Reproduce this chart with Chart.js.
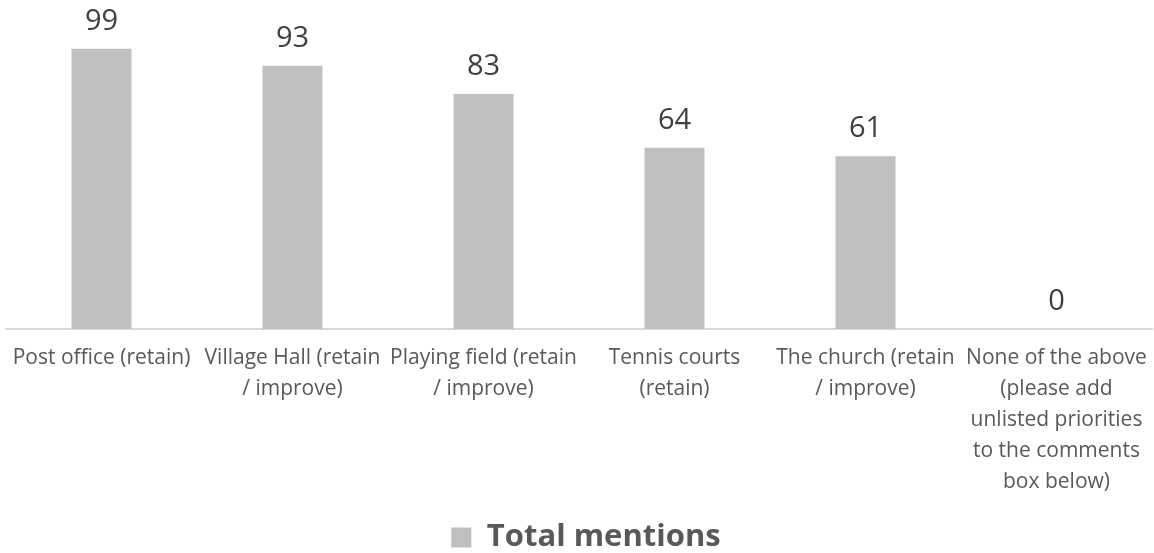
<!DOCTYPE html>
<html>
<head>
<meta charset="utf-8">
<script src="https://cdn.jsdelivr.net/npm/chart.js@4.4.1/dist/chart.umd.min.js"></script>
<style>
  html, body { margin: 0; padding: 0; background: #ffffff; }
  #wrap { width: 1154px; height: 553px; position: relative; }
</style>
</head>
<body>
<div id="wrap"><canvas id="c" width="1154" height="553"></canvas></div>
<script>
const categories = [
  "Post office (retain)",
  ["Village Hall (retain", "/ improve)"],
  ["Playing field (retain", "/ improve)"],
  ["Tennis courts", "(retain)"],
  ["The church (retain", "/ improve)"],
  ["None of the above", "(please add", "unlisted priorities", "to the comments", "box below)"]
];
const totalMentions = [99, 93, 83, 64, 61, 0];
const seriesName = "Total mentions";

const valueLabels = {
  id: 'valueLabels',
  afterDatasetsDraw(chart) {
    const ctx = chart.ctx;
    ctx.save();
    ctx.font = '29px "Open Sans"';
    ctx.fillStyle = '#404040';
    ctx.textAlign = 'center';
    ctx.textBaseline = 'alphabetic';
    chart.data.datasets.forEach((ds, i) => {
      const meta = chart.getDatasetMeta(i);
      meta.data.forEach((bar, j) => {
        ctx.fillText(String(ds.data[j]), bar.x, bar.y - 19);
      });
    });
    ctx.restore();
  }
};

const legendShift = {
  id: 'legendShift',
  afterLayout(chart) {
    if (chart.legend) {
      chart.legend.left += 7;
      chart.legend.right += 7;
    }
  }
};

new Chart(document.getElementById('c'), {
  type: 'bar',
  data: {
    labels: categories,
    datasets: [{
      label: seriesName,
      data: totalMentions,
      backgroundColor: '#bfbfbf',
      borderWidth: 0,
      barPercentage: 0.314,
      categoryPercentage: 1.0
    }]
  },
  options: {
    responsive: false,
    animation: false,
    devicePixelRatio: 1,
    layout: { padding: { top: 17.5, left: 6, right: 2, bottom: -10 } },
    plugins: {
      tooltip: { enabled: false },
      legend: {
        display: true,
        position: 'bottom',
        labels: {
          boxWidth: 20,
          boxHeight: 20,
          padding: 1,
          color: '#595959',
          font: { family: '"Open Sans"', size: 31, weight: 'bold' }
        }
      }
    },
    scales: {
      x: {
        grid: { display: false, drawTicks: false },
        border: { display: true, color: '#d9d9d9', width: 2 },
        ticks: {
          color: '#595959',
          padding: 14,
          autoSkip: false,
          maxRotation: 0,
          font: { family: '"Open Sans"', size: 21, lineHeight: '31px' }
        },
        afterFit(scale) {
          scale.height = 192;
          scale.paddingLeft = 0;
          scale.paddingRight = 0;
        }
      },
      y: {
        display: false,
        min: 0,
        max: 110
      }
    }
  },
  plugins: [valueLabels, legendShift]
});
</script>
</body>
</html>
